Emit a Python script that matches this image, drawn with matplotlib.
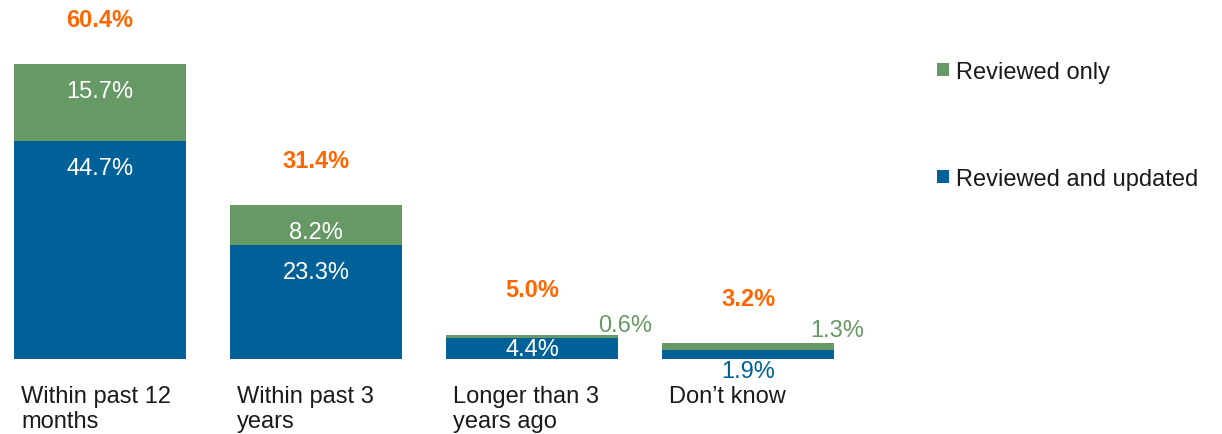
import numpy as np
import matplotlib.pyplot as plt

plt.rcParams['font.family'] = ['Liberation Sans', 'DejaVu Sans']

categories = ['Within past 12\nmonths', 'Within past 3\nyears', 'Longer than 3\nyears ago', 'Don\u2019t know']
updated = [44.7, 23.3, 4.4, 1.9]
reviewed_only = [15.7, 8.2, 0.6, 1.3]
totals = [60.4, 31.4, 5.0, 3.2]

BLUE = '#006199'
GREEN = '#669966'
ORANGE = '#FF6600'
FS = 17
PT = 0.72  # points per pixel at dpi 100

fig = plt.figure(figsize=(12.22, 4.35), dpi=100)
ax = fig.add_axes([0, 0, 1, 1])
ax.axis('off')

# pixel layout: bar centres every 216 px starting at 100 px, 4.884 px per percent
step = 216.0
ypx = 4.884
ax.set_xlim(-100 / step, (1222 - 100) / step)
ax.set_ylim(-75 / ypx, 360 / ypx)

x = np.arange(len(categories))
w = 172 / step
b1 = ax.bar(x, updated, width=w, color=BLUE, label='Reviewed and updated')
b2 = ax.bar(x, reviewed_only, width=w, bottom=updated, color=GREEN, label='Reviewed only')


def lab(txt, xy, dx, dy, color, bold=False, ha='center'):
    ax.annotate(txt, xy, xytext=(dx * PT, dy * PT), textcoords='offset points',
                ha=ha, va='center', color=color, fontsize=FS,
                fontweight='bold' if bold else 'normal')


for i in range(len(categories)):
    top = updated[i] + reviewed_only[i]
    lab(f'{totals[i]:.1f}%', (x[i], totals[i]), 0, 45, ORANGE, bold=True)
    if updated[i] > 10:
        lab(f'{updated[i]:.1f}%', (x[i], updated[i]), 0, -27, 'white')
        lab(f'{reviewed_only[i]:.1f}%', (x[i], top), 0, -27, 'white')
    elif updated[i] > 3:
        lab(f'{updated[i]:.1f}%', (x[i], updated[i]), 0, -11, 'white')
        lab(f'{reviewed_only[i]:.1f}%', (x[i], top), 93, 10, GREEN)
    else:
        lab(f'{updated[i]:.1f}%', (x[i], 0), 0, -12, BLUE)
        lab(f'{reviewed_only[i]:.1f}%', (x[i], top), 89, 13, GREEN)

    ax.annotate(categories[i], (x[i] - w / 2, 0), xytext=(7 * PT, -26 * PT),
                textcoords='offset points', ha='left', va='top',
                fontsize=FS, color='#1a1a1a', linespacing=1.2)

fig.legend(handles=[b2, b1], loc='upper left', bbox_to_anchor=(925 / 1222, 1 - 50 / 435),
           frameon=False, fontsize=FS, handlelength=0.5, handleheight=0.5,
           handletextpad=0.3, labelspacing=3.6, borderpad=0, labelcolor='#1a1a1a')

fig.savefig('out.png', dpi=100)
